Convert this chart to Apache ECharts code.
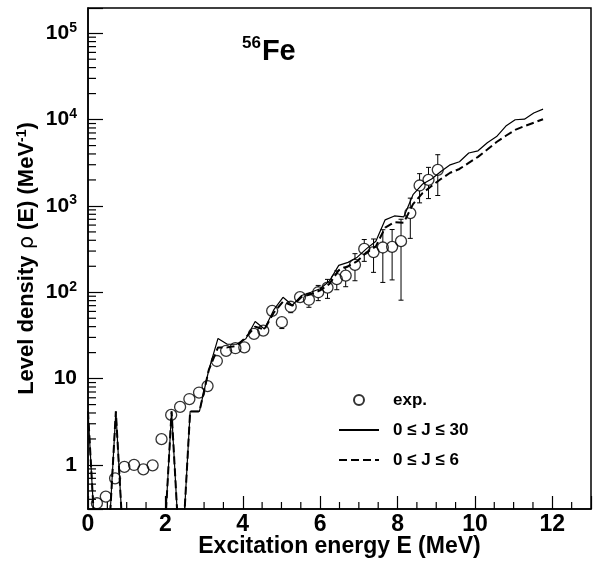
<!DOCTYPE html>
<html>
<head>
<meta charset="utf-8">
<script src="https://cdn.jsdelivr.net/npm/echarts@6/dist/echarts.min.js"></script>
<style>
  html, body { margin: 0; padding: 0; background: #fff; }
  #chart { width: 601px; height: 562px; }
</style>
</head>
<body>
<div id="chart"></div>
<script>
// Experimental level density of 56Fe (MeV^-1) with absolute errors
const energyExp = [0.23, 0.46, 0.70, 0.94, 1.19, 1.43, 1.67, 1.90, 2.15, 2.38,
                   2.62, 2.87, 3.09, 3.33, 3.57, 3.81, 4.04, 4.29, 4.53, 4.76,
                   5.01, 5.24, 5.48, 5.71, 5.95, 6.19, 6.43, 6.66, 6.90, 7.14,
                   7.38, 7.62, 7.86, 8.09, 8.33, 8.57, 8.80, 9.04];
const rhoExp = [0.36, 0.43, 0.70, 0.95, 1.0, 0.89, 0.99, 1.99, 3.8, 4.7,
                5.8, 6.9, 8.2, 16, 21, 22.5, 23, 33, 36, 61,
                45, 68, 88, 82, 100, 113, 142, 156, 208, 318,
                292, 330, 336, 391, 826, 1725, 2006, 2620];
const rhoExpErr = [0, 0, 0, 0, 0, 0, 0, 0, 0, 0,
                   0, 0, 0, 0, 0, 0, 0, 0, 0, 0,
                   7, 10, 12, 15, 20, 28, 35, 40, 72, 90,
                   122, 200, 197, 310, 405, 640, 790, 1300];

// Calculated level densities on a 0.24 MeV grid (0 = empty bin)
const energyModel = [0.00, 0.24, 0.48, 0.72, 0.96, 1.20, 1.44, 1.68, 1.92, 2.16,
                     2.40, 2.64, 2.88, 3.12, 3.36, 3.60, 3.84, 4.08, 4.32, 4.56,
                     4.80, 5.04, 5.28, 5.52, 5.76, 6.00, 6.24, 6.48, 6.72, 6.96,
                     7.20, 7.44, 7.68, 7.92, 8.16, 8.40, 8.64, 8.88, 9.12, 9.36,
                     9.60, 9.84, 10.08, 10.32, 10.56, 10.80, 11.04, 11.28, 11.52, 11.76];
const rhoJ30 = [4.17, 0, 0, 4.17, 0, 0, 0, 0, 0, 4.17,
                0, 4.17, 4.17, 12.5, 29.2, 25, 25, 29, 45.8, 37.5,
                62.5, 87.5, 70.8, 91.7, 100, 110, 135, 205, 222, 255,
                320, 390, 690, 765, 745, 1350, 1780, 2050, 2500, 2990,
                3250, 4100, 4350, 5400, 6350, 8400, 9950, 10100, 11900, 13200];
const rhoJ6 = [4.17, 0, 0, 4.17, 0, 0, 0, 0, 0, 4.17,
               0, 4.17, 4.17, 12.5, 23, 23, 24, 30, 40, 37,
               58, 78, 70, 88, 95, 105, 125, 180, 200, 230,
               290, 340, 560, 650, 640, 1050, 1400, 1700, 2050, 2420,
               2680, 3150, 3700, 4500, 5500, 6500, 7600, 8400, 9200, 10100];

const seriesNames = ['exp.', '0 \u2264 J \u2264 30', '0 \u2264 J \u2264 6'];

// Axis ranges
const X_MIN = 0, X_MAX = 13, X_STEP = 2;
const Y_MIN = 0.309, Y_MAX = 196000;
const EMPTY_BIN = 0.05;   // empty bins fall below the frame on the log scale
const MARKER_SIZE = 11;
const FONT = '"Liberation Sans", Arial, Helvetica, sans-serif';

// Minor tick positions: 0.5 MeV steps on x, 2..9 x 10^n on the log y axis
const xMinor = [];
for (let v = 0.5; v < X_MAX; v += 0.5) {
  if (Math.abs(v / X_STEP - Math.round(v / X_STEP)) > 1e-6) xMinor.push(v);
}
const yMinor = [];
for (let e = -1; e <= 5; e++) {
  for (let m = 2; m <= 9; m++) {
    const v = m * Math.pow(10, e);
    if (v > Y_MIN && v < Y_MAX) yMinor.push(v);
  }
}

const toPairs = (xs, ys) => ys.map((v, i) => [xs[i], v > 0 ? v : EMPTY_BIN]);
const expPoints = rhoExp.map((v, i) => [energyExp[i], v]);

function yLabel(v) {
  const lg = Math.log10(v);
  const e = Math.round(lg);
  if (Math.abs(lg - e) > 1e-6) return '';
  if (e === 0) return '1';
  if (e === 1) return '10';
  return '{b|10}{s|' + e + '}';
}

const hiddenSymbol = () => ({ color: 'rgba(0,0,0,0)', borderColor: 'rgba(0,0,0,0)', borderWidth: 0 });

const chart = echarts.init(document.getElementById('chart'), null, { renderer: 'canvas' });

chart.setOption({
  animation: false,
  backgroundColor: '#fff',
  textStyle: { fontFamily: FONT },
  title: {
    text: '{s|56}{e|Fe}',
    left: 242, top: 37,
    padding: 0,
    textStyle: {
      rich: {
        s: { fontFamily: FONT, fontSize: 17, fontWeight: 'bold', color: '#000',
             verticalAlign: 'bottom', lineHeight: 17, padding: [0, 1, 14, 0] },
        e: { fontFamily: FONT, fontSize: 29, fontWeight: 'bold', color: '#000',
             verticalAlign: 'bottom', lineHeight: 29 }
      }
    }
  },
  legend: {
    orient: 'vertical',
    left: 338, top: 390,
    padding: 0,
    itemWidth: 40, itemHeight: 10, itemGap: 10,
    selectedMode: false,
    data: [
      { name: seriesNames[0], icon: 'circle' },
      { name: seriesNames[1], itemStyle: hiddenSymbol() },
      { name: seriesNames[2], itemStyle: hiddenSymbol() }
    ],
    textStyle: { fontFamily: FONT, fontSize: 17, fontWeight: 'bold', color: '#000',
                 lineHeight: 20, padding: [0, 0, 0, 9] }
  },
  grid: {
    left: 88, right: 10, top: 8, bottom: 53,
    containLabel: false,
    outerBoundsMode: 'none',
    show: true, borderColor: '#000', borderWidth: 1.5, backgroundColor: 'transparent'
  },
  xAxis: {
    type: 'value',
    min: X_MIN, max: X_MAX, interval: X_STEP,
    axisLine: { show: true, onZero: false, lineStyle: { color: '#000', width: 1.5 } },
    axisTick: { show: true, inside: true, length: 13, lineStyle: { color: '#000', width: 1.2 } },
    minorTick: { show: false },
    splitLine: { show: false },
    axisLabel: {
      margin: 4, fontFamily: FONT, fontSize: 23, fontWeight: 'bold', color: '#000',
      formatter: v => (v <= 12 && v % X_STEP === 0) ? String(v) : ''
    },
    name: 'Excitation energy E (MeV)',
    nameLocation: 'middle', nameGap: 26, nameMoveOverlap: false,
    nameTextStyle: { fontFamily: FONT, fontSize: 23, fontWeight: 'bold', color: '#000' }
  },
  yAxis: {
    type: 'log', logBase: 10,
    min: Y_MIN, max: Y_MAX,
    axisLine: { show: true, lineStyle: { color: '#000', width: 1.5 } },
    axisTick: { show: true, inside: true, length: 15, lineStyle: { color: '#000', width: 1.2 } },
    minorTick: { show: false },
    splitLine: { show: false },
    axisLabel: {
      margin: 11, fontFamily: FONT, fontSize: 21, fontWeight: 'bold', color: '#000',
      formatter: yLabel,
      rich: {
        b: { fontFamily: FONT, fontSize: 21, fontWeight: 'bold', color: '#000',
             verticalAlign: 'bottom', lineHeight: 21 },
        s: { fontFamily: FONT, fontSize: 14, fontWeight: 'bold', color: '#000',
             verticalAlign: 'bottom', lineHeight: 14, padding: [0, 0, 9, 0] }
      }
    },
    name: '{b|Level density }{r|\u03c1}{b| (E) (MeV}{s|-1}{b|)}',
    nameLocation: 'middle', nameGap: 50, nameRotate: 90, nameMoveOverlap: false,
    nameTextStyle: {
      rich: {
        b: { fontFamily: FONT, fontSize: 22, fontWeight: 'bold', color: '#000',
             verticalAlign: 'bottom', lineHeight: 22 },
        r: { fontFamily: '"DejaVu Sans", sans-serif', fontSize: 21, fontWeight: 'normal', color: '#000',
             verticalAlign: 'bottom', lineHeight: 22 },
        s: { fontFamily: FONT, fontSize: 14, fontWeight: 'bold', color: '#000',
             verticalAlign: 'bottom', lineHeight: 14, padding: [0, 0, 9, 0] }
      }
    }
  },
  series: [
    {
      type: 'scatter', name: seriesNames[0], silent: true,
      symbol: 'circle', symbolSize: MARKER_SIZE,
      itemStyle: { color: 'rgba(255,255,255,0)', borderColor: '#000', borderWidth: 1.3 },
      data: expPoints
    },
    {
      type: 'line', name: seriesNames[1], silent: true,
      symbol: 'none',
      lineStyle: { color: '#000', width: 1.2, type: 'solid' },
      itemStyle: { color: '#000' },
      data: toPairs(energyModel, rhoJ30)
    },
    {
      type: 'line', name: seriesNames[2], silent: true,
      symbol: 'none',
      lineStyle: { color: '#000', width: 2, type: [8, 4] },
      itemStyle: { color: '#000' },
      data: toPairs(energyModel, rhoJ6)
    }
  ]
});

// Overlay elements positioned through the grid's own scales
const toPx = pt => chart.convertToPixel({ xAxisIndex: 0, yAxisIndex: 0 }, pt);
const segment = (x1, y1, x2, y2, w) => ({
  type: 'line', silent: true, z: 10,
  shape: { x1: x1, y1: y1, x2: x2, y2: y2 },
  style: { stroke: '#000', lineWidth: w }
});
const overlay = [];

// Minor ticks
xMinor.forEach(v => {
  const p = toPx([v, Y_MIN]);
  overlay.push(segment(p[0], p[1], p[0], p[1] - 7, 1.2));
});
yMinor.forEach(v => {
  const p = toPx([X_MIN, v]);
  overlay.push(segment(p[0], p[1], p[0] + 8, p[1], 1.2));
});

// Error bars, left open where the hollow marker sits
const r = MARKER_SIZE / 2, cap = 2.5;
rhoExp.forEach((v, i) => {
  const dy = rhoExpErr[i];
  if (!(dy > 0)) return;
  const c = toPx([energyExp[i], v]);
  const hi = toPx([energyExp[i], v + dy]);
  const lo = toPx([energyExp[i], v - dy]);
  if (hi[1] < c[1] - r) {
    overlay.push(segment(c[0], hi[1], c[0], c[1] - r, 1));
    overlay.push(segment(c[0] - cap, hi[1], c[0] + cap, hi[1], 1));
  }
  if (lo[1] > c[1] + r) {
    overlay.push(segment(c[0], c[1] + r, c[0], lo[1], 1));
    overlay.push(segment(c[0] - cap, lo[1], c[0] + cap, lo[1], 1));
  }
});

chart.setOption({ graphic: { elements: overlay } });
</script>
</body>
</html>
